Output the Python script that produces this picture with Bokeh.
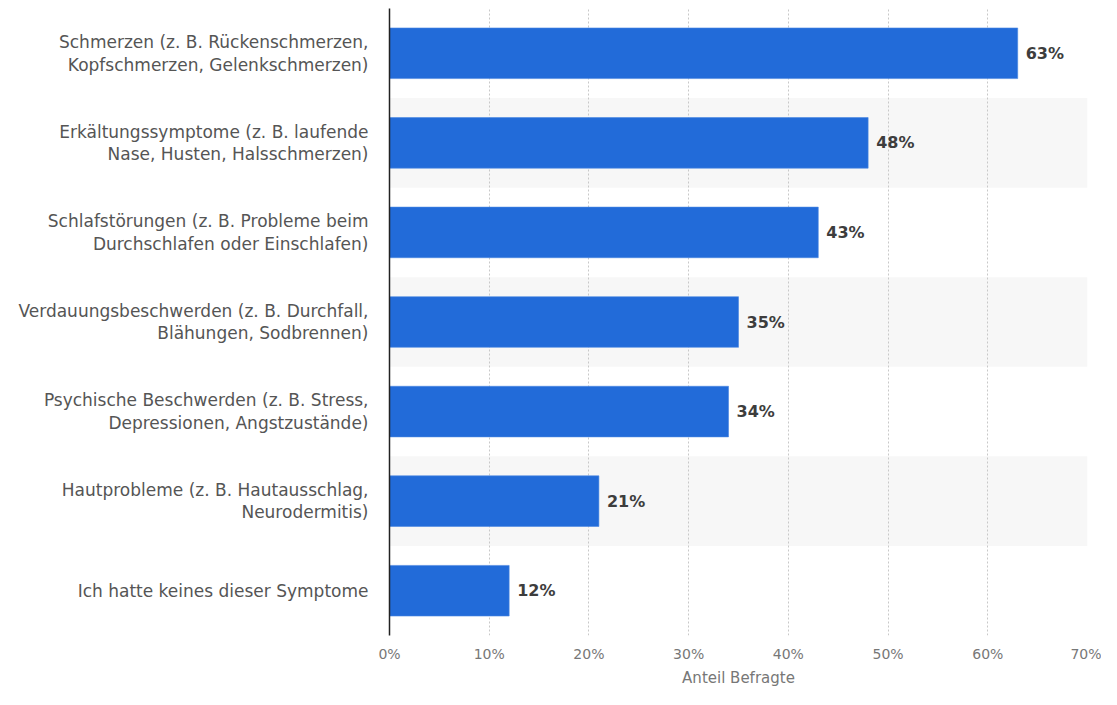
from bokeh.plotting import figure
from bokeh.models import FactorRange, Range1d, FixedTicker, CustomJSTickFormatter
from bokeh.core.properties import value
from bokeh.embed import file_html
from bokeh.resources import INLINE

categories = [
    "Schmerzen (z. B. Rückenschmerzen,\nKopfschmerzen, Gelenkschmerzen)",
    "Erkältungssymptome (z. B. laufende\nNase, Husten, Halsschmerzen)",
    "Schlafstörungen (z. B. Probleme beim\nDurchschlafen oder Einschlafen)",
    "Verdauungsbeschwerden (z. B. Durchfall,\nBlähungen, Sodbrennen)",
    "Psychische Beschwerden (z. B. Stress,\nDepressionen, Angstzustände)",
    "Hautprobleme (z. B. Hautausschlag,\nNeurodermitis)",
    "Ich hatte keines dieser Symptome",
]
values = [63, 48, 43, 35, 34, 21, 12]
x_ticks = [0, 10, 20, 30, 40, 50, 60, 70]
x_label = "Anteil Befragte"

FONT = "DejaVu Sans"

p = figure(
    width=1101, height=689,
    y_range=FactorRange(factors=list(reversed(categories)), range_padding=0),
    x_range=Range1d(0, 70),
    output_backend="svg", toolbar_location=None,
    min_border_left=389, min_border_right=14, min_border_top=8, min_border_bottom=48,
)
p.outline_line_color = None
p.background_fill_color = "white"

# alternating bands
band_cats = categories[1::2]
p.hbar(y=band_cats, left=0, right=x_ticks[-1], height=1.0,
       fill_color="#f7f7f7", line_color=None, level="image")

# bars
p.hbar(y=categories, left=0, right=values, height=0.565,
       fill_color="#226bd9", line_color="#4a86e0", line_width=0.6)

# value labels
p.text(x=values, y=categories, text=[f"{v}%" for v in values],
       x_offset=8, text_baseline="middle", text_align="left",
       text_font=value(FONT), text_font_size="16px", text_font_style="bold",
       text_color="#3d3d3d")

# grid
p.ygrid.grid_line_color = None
p.xgrid.ticker = FixedTicker(ticks=x_ticks)
p.xgrid.grid_line_color = "#c8c8c8"
p.xgrid.grid_line_dash = "2 2"
p.xgrid.grid_line_width = 1

# x axis
xa = p.xaxis[0]
xa.ticker = FixedTicker(ticks=x_ticks)
xa.formatter = CustomJSTickFormatter(code="return tick + '%';")
xa.axis_line_color = None
xa.major_tick_line_color = None
xa.minor_tick_line_color = None
xa.major_tick_out = 0
xa.major_tick_in = 0
xa.minor_tick_out = 0
xa.major_label_standoff = 10
xa.major_label_text_font = FONT
xa.major_label_text_font_size = "14px"
xa.major_label_text_color = "#777777"
xa.axis_label = x_label
xa.axis_label_text_font = FONT
xa.axis_label_text_font_size = "15px"
xa.axis_label_text_font_style = "normal"
xa.axis_label_text_color = "#777777"
xa.axis_label_standoff = 4

# y axis
ya = p.yaxis[0]
ya.axis_line_color = "#222222"
ya.axis_line_width = 1.5
ya.major_tick_line_color = None
ya.minor_tick_line_color = None
ya.major_tick_out = 0
ya.major_tick_in = 0
ya.minor_tick_out = 0
ya.major_label_standoff = 21
ya.major_label_text_font = FONT
ya.major_label_text_font_size = "17px"
ya.major_label_text_color = "#555555"
ya.major_label_text_line_height = 1.13

open("out.html", "w").write(file_html(p, INLINE))
